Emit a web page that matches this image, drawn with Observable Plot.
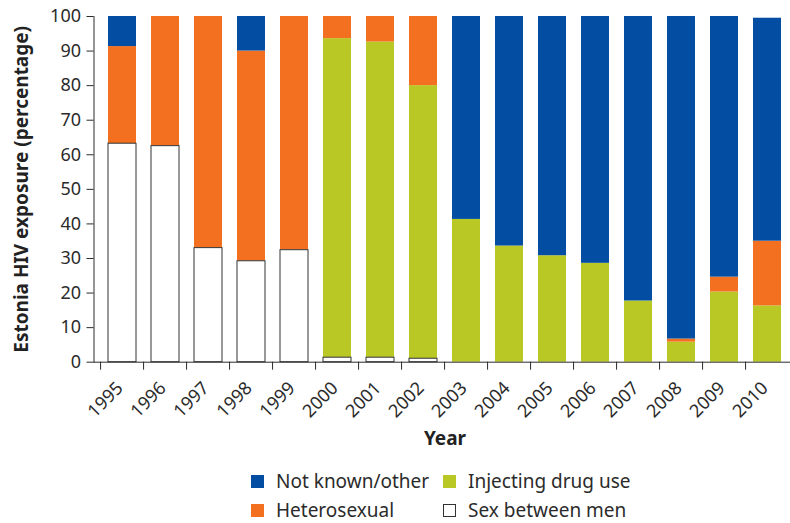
<!DOCTYPE html>
<html>
<head>
<meta charset="utf-8">
<script src="https://cdn.jsdelivr.net/npm/d3@7"></script>
<script src="https://cdn.jsdelivr.net/npm/@observablehq/plot@0.6"></script>
<style>
  html, body { margin: 0; padding: 0; background: #fff; }
  body { width: 790px; height: 523px; position: relative; overflow: hidden; font-family: "Noto Sans", sans-serif; }
  #chart svg { font-family: "Noto Sans", sans-serif; color: #2b2b2b; }
  #chart g[aria-label="y-axis label"] text, #chart g[aria-label="x-axis label"] text { font-weight: bold; font-size: 19px; fill: #222; }
  .legend .item { position: absolute; display: flex; align-items: center; height: 18px; line-height: 18px; font-size: 19px; color: #2b2b2b; white-space: nowrap; }
  .legend .sw { width: 13px; height: 13px; margin-right: 12px; box-sizing: border-box; }
</style>
</head>
<body>
<div id="chart"></div>
<div class="legend" id="legend"></div>
<script>
const years = ["1995","1996","1997","1998","1999","2000","2001","2002","2003","2004","2005","2006","2007","2008","2009","2010"];
const categories = ["Sex between men", "Injecting drug use", "Heterosexual", "Not known/other"];
const colors = ["#ffffff", "#bac826", "#f37021", "#034ea2"];
const sexBetweenMen   = [63.2, 62.5, 33.0, 29.2, 32.4, 1.3, 1.3, 1.0, 0, 0, 0, 0, 0, 0, 0, 0];
const injectingDrugUse = [0, 0, 0, 0, 0, 92.3, 91.3, 79.0, 41.3, 33.6, 30.8, 28.6, 17.7, 5.8, 20.3, 16.3];
const heterosexual    = [28.1, 37.5, 67.0, 60.8, 67.6, 6.4, 7.4, 20.0, 0, 0, 0, 0, 0, 0.9, 4.3, 18.7];
const notKnownOther   = [8.7, 0, 0, 10.0, 0, 0, 0, 0, 58.7, 66.4, 69.2, 71.4, 82.3, 93.3, 75.4, 64.5];
const yTicks = [0, 10, 20, 30, 40, 50, 60, 70, 80, 90, 100];

const series = [sexBetweenMen, injectingDrugUse, heterosexual, notKnownOther];
const rows = [];
years.forEach((year, i) => {
  categories.forEach((c, k) => rows.push({year, category: c, value: series[k][i]}));
});
const msmRows = years.map((year, i) => ({year, value: sexBetweenMen[i]})).filter(d => d.value > 0);

const W = 790, H = 455, mL = 93.5, mR = -5.5;
const step = (W - mR - mL) / years.length;

const chart = Plot.plot({
  width: W,
  height: H,
  marginLeft: mL,
  marginRight: mR,
  marginTop: 16,
  marginBottom: 93.3,
  style: {fontSize: "18px", color: "#2b2b2b"},
  x: {domain: years, paddingInner: 0.36, paddingOuter: 0.18, axis: null},
  y: {domain: [0, 100], axis: null},
  color: {domain: categories, range: colors, legend: false},
  marks: [
    Plot.barY(rows, Plot.stackY({x: "year", y: "value", fill: "category", order: categories})),
    Plot.barY(msmRows, {x: "year", y: "value", fill: "white", stroke: "#333", strokeWidth: 1}),
    Plot.frame({anchor: "left", stroke: "#2b2b2b"}),
    Plot.ruleY([0], {stroke: "#2b2b2b"}),
    Plot.axisY({ticks: yTicks, tickSize: 7, tickPadding: 6, fontSize: 18,
      label: "Estonia HIV exposure (percentage)", labelAnchor: "center", labelArrow: "none", labelOffset: 80}),
    Plot.axisX({tickSize: 8, text: null, dx: -step / 2, label: null}),
    Plot.axisX({tickSize: 0, tickRotate: -45, tickPadding: 14, fontSize: 18, dx: -2.5, dy: 9,
      label: null}),
    Plot.axisX({tickSize: 0, text: null, label: "Year", labelAnchor: "center", labelArrow: "none", labelOffset: 83})
  ]
});
document.getElementById("chart").appendChild(chart);

const legendOrder = [3, 1, 2, 0];
const legendLeft = [251, 443, 251, 443];
const legendTop = [472, 472, 501, 501];
const lg = document.getElementById("legend");
legendOrder.forEach((k, j) => {
  const item = document.createElement("div");
  item.className = "item";
  item.style.left = legendLeft[j] + "px";
  item.style.top = legendTop[j] + "px";
  const sw = document.createElement("span");
  sw.className = "sw";
  sw.style.background = colors[k];
  if (k === 0) sw.style.border = "1px solid #333";
  const t = document.createElement("span");
  t.textContent = categories[k];
  item.appendChild(sw); item.appendChild(t);
  lg.appendChild(item);
});
</script>
</body>
</html>
